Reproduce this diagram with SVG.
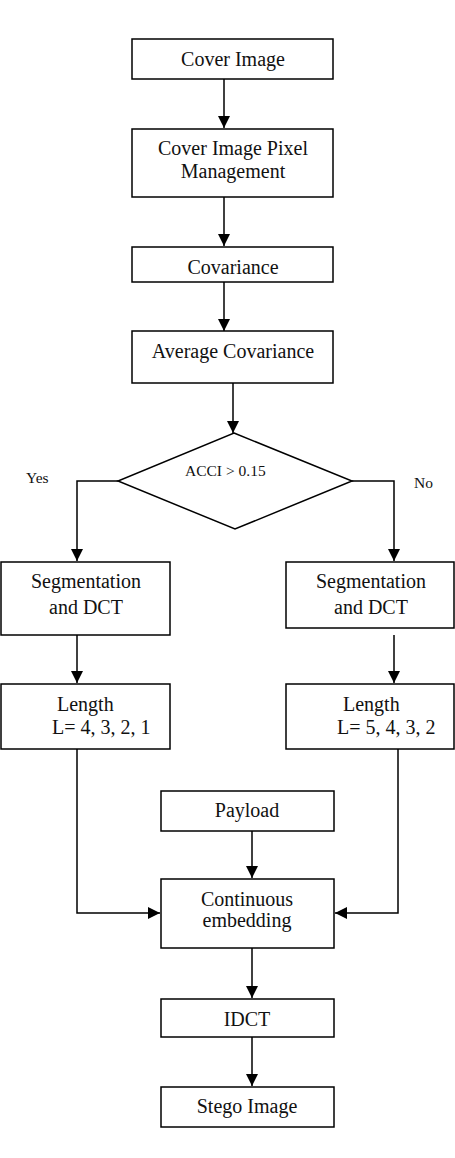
<svg xmlns="http://www.w3.org/2000/svg" width="455" height="1158" viewBox="0 0 455 1158">
<defs>
<marker id="arr" markerUnits="userSpaceOnUse" markerWidth="12" markerHeight="12" refX="12" refY="6" orient="auto">
<path d="M0,0 L12,6 L0,12 z" fill="#000"/>
</marker>
<style>
.box{fill:#fff;stroke:#000;stroke-width:1.5}
.t{font-family:"Liberation Serif","Times New Roman",serif;font-size:20px;fill:#111}
.s{font-family:"Liberation Serif","Times New Roman",serif;font-size:15.5px;fill:#111}
.c{text-anchor:middle}
.ln{fill:none;stroke:#000;stroke-width:1.5}
</style>
</defs>
<rect width="455" height="1158" fill="#fff"/>
<g id="connectors">
<path class="ln" d="M224,79 V128" marker-end="url(#arr)"/>
<path class="ln" d="M224,197 V246" marker-end="url(#arr)"/>
<path class="ln" d="M224,282 V331" marker-end="url(#arr)"/>
<path class="ln" d="M233,383 V433" marker-end="url(#arr)"/>
<path class="ln" d="M118,481 H77 V561" marker-end="url(#arr)"/>
<path class="ln" d="M352,481 H394 V561" marker-end="url(#arr)"/>
<path class="ln" d="M77,635 V683" marker-end="url(#arr)"/>
<path class="ln" d="M394,635 V683" marker-end="url(#arr)"/>
<path class="ln" d="M77,749 V913 H160" marker-end="url(#arr)"/>
<path class="ln" d="M398,749 V913 H335" marker-end="url(#arr)"/>
<path class="ln" d="M252,831 V878" marker-end="url(#arr)"/>
<path class="ln" d="M252,948 V998" marker-end="url(#arr)"/>
<path class="ln" d="M252,1037 V1086" marker-end="url(#arr)"/>
</g>
<g id="cover-image">
<rect class="box" x="132" y="39" width="201" height="40"/>
<text class="t c" x="233" y="66">Cover Image</text>
</g>
<g id="pixel-management">
<rect class="box" x="132" y="129" width="201" height="68"/>
<text class="t c" x="233" y="155">Cover Image Pixel</text>
<text class="t c" x="233" y="178">Management</text>
</g>
<g id="covariance">
<rect class="box" x="132" y="247" width="201" height="35"/>
<text class="t c" x="233" y="274">Covariance</text>
</g>
<g id="average-covariance">
<rect class="box" x="132" y="331" width="201" height="52"/>
<text class="t c" x="233" y="358">Average Covariance</text>
</g>
<g id="decision">
<polygon class="box" points="234,433 352,481 235,529 118,481"/>
<text class="s" x="185" y="476">ACCI &gt; 0.15</text>
</g>
<g id="label-yes"><text class="s" x="26" y="483">Yes</text></g>
<g id="label-no"><text class="s" x="414" y="488">No</text></g>
<g id="seg-left">
<rect class="box" x="1" y="562" width="169" height="73"/>
<text class="t" x="31" y="588">Segmentation</text>
<text class="t" x="49" y="614">and DCT</text>
</g>
<g id="seg-right">
<rect class="box" x="286" y="562" width="168" height="66"/>
<text class="t" x="316" y="588">Segmentation</text>
<text class="t" x="334" y="614">and DCT</text>
</g>
<g id="length-left">
<rect class="box" x="1" y="684" width="169" height="65"/>
<text class="t" x="57" y="711">Length</text>
<text class="t" x="52" y="734">L= 4, 3, 2, 1</text>
</g>
<g id="length-right">
<rect class="box" x="286" y="684" width="168" height="65"/>
<text class="t" x="343" y="711">Length</text>
<text class="t" x="337" y="734">L= 5, 4, 3, 2</text>
</g>
<g id="payload">
<rect class="box" x="161" y="791" width="173" height="40"/>
<text class="t c" x="247" y="817">Payload</text>
</g>
<g id="continuous-embedding">
<rect class="box" x="161" y="879" width="173" height="69"/>
<text class="t c" x="247" y="906">Continuous</text>
<text class="t c" x="247" y="927">embedding</text>
</g>
<g id="idct">
<rect class="box" x="161" y="999" width="173" height="38"/>
<text class="t c" x="247" y="1026">IDCT</text>
</g>
<g id="stego-image">
<rect class="box" x="161" y="1087" width="173" height="40"/>
<text class="t c" x="247" y="1113">Stego Image</text>
</g>
</svg>
